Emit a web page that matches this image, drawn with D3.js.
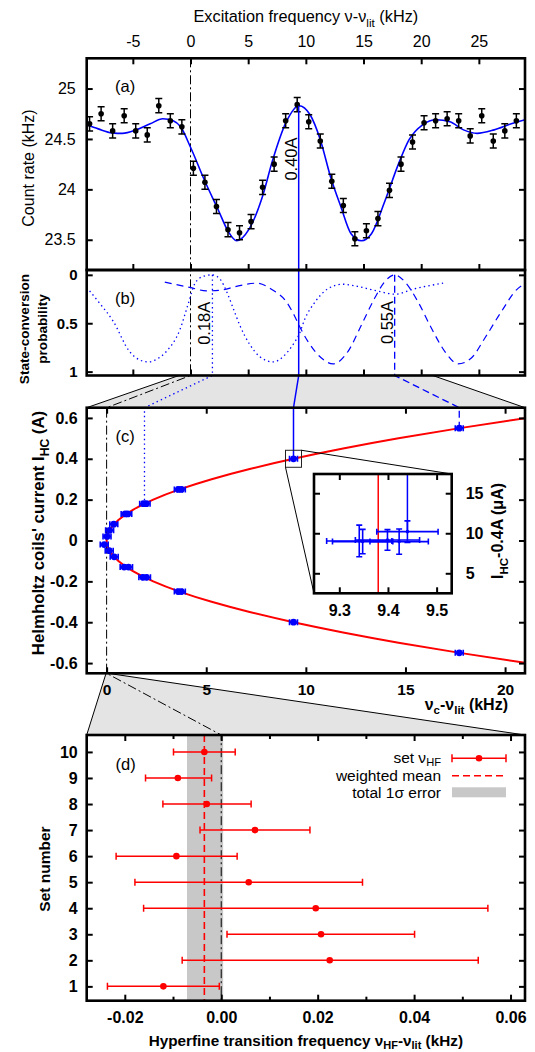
<!DOCTYPE html>
<html><head><meta charset="utf-8">
<script src="https://cdn.jsdelivr.net/npm/d3@7/dist/d3.min.js"></script>
<style>html,body{margin:0;padding:0;background:#fff;} svg{display:block;}</style>
</head><body>
<svg id="chart" width="535" height="1052"></svg>
<script>
// ================= DATA =================
// (a) measured count rate vs excitation frequency (kHz)
const scanFreq = [-8.75,-7.75,-6.75,-5.75,-4.75,-3.75,-2.75,-1.75,-0.75,0.25,1.25,2.25,3.25,4.25,5.25,6.25,7.25,8.25,9.25,10.25,11.25,12.25,13.25,14.25,15.25,16.25,17.25,18.25,19.25,20.25,21.25,22.25,23.25,24.25,25.25,26.25,27.25,28.25];
const scanCount = [24.65,24.75,24.58,24.73,24.58,24.54,24.83,24.68,24.62,24.21,24.07,23.83,23.60,23.57,23.68,24.02,24.25,24.68,24.84,24.67,24.48,24.08,23.84,23.51,23.59,23.71,23.99,24.25,24.47,24.66,24.68,24.70,24.68,24.53,24.73,24.48,24.58,24.68];
const scanErr = [0.07,0.07,0.07,0.07,0.07,0.07,0.07,0.07,0.07,0.07,0.07,0.07,0.07,0.07,0.07,0.07,0.07,0.07,0.07,0.07,0.07,0.07,0.07,0.07,0.07,0.07,0.07,0.07,0.07,0.07,0.07,0.07,0.07,0.07,0.07,0.07,0.07,0.07];
// (a) fit curve
const fitAFreq = [-9.0,-8.0,-6.8,-5.9,-4.7,-3.5,-2.4,-1.5,-0.86,0.03,1.21,2.39,3.28,4.0,5.05,6.24,7.12,8.3,9.4,10.37,11.26,12.15,13.03,13.92,14.81,15.69,16.87,18.06,18.94,20.12,21.31,22.49,23.67,24.85,26.33,27.81,29.0];
const fitACount = [24.64,24.60,24.56,24.555,24.59,24.65,24.70,24.68,24.62,24.41,24.09,23.80,23.58,23.49,23.60,23.93,24.29,24.67,24.83,24.74,24.49,24.12,23.83,23.56,23.49,23.56,23.89,24.26,24.49,24.64,24.69,24.67,24.59,24.555,24.59,24.65,24.69];

// (b) state-conversion probability curves (0.18 A dotted, 0.55 A dashed)
const convDotFreq = [-9.0,-7.9,-6.7,-5.3,-4.4,-3.67,-2.9,-2.08,-0.93,-0.2,0.38,1.1,1.9,2.6,3.12,3.7,4.27,5.14,6.0,7.16,8.32,9.0,9.4,9.9,10.8,11.9,13.2,14.5,16.3,17.7,19.4,21.9];
const convDotProb = [0.13,0.29,0.48,0.79,0.88,0.90,0.87,0.79,0.57,0.30,0.09,0.015,0.0,0.05,0.17,0.345,0.52,0.72,0.845,0.90,0.81,0.70,0.62,0.46,0.28,0.145,0.097,0.12,0.17,0.20,0.145,0.086];
const convDashFreq = [-2.23,-0.06,1.38,2.54,3.98,5.72,7.16,8.32,9.0,9.4,10.19,11.35,12.36,13.66,14.81,15.97,16.84,17.7,18.57,19.73,20.88,22.04,23.19,24.35,25.51,26.95,28.26,29.0];
const convDashProb = [0.076,0.13,0.165,0.16,0.12,0.086,0.16,0.28,0.42,0.52,0.69,0.86,0.92,0.79,0.52,0.24,0.07,0.0,0.07,0.28,0.55,0.79,0.92,0.86,0.655,0.38,0.155,0.09];

// currents whose resonances are connected between the panels
const markerCurrent = [0.18, 0.40, 0.55];
const markerFreq = [1.9, 9.38, 17.7];
const markerLabel = ["0.18A", "0.40A", "0.55A"];

// (c) Helmholtz coil current vs resonance frequency
const coilNu = [0.02,0.15,0.36,0.93,1.06,1.86,1.98,3.6,3.75,9.38,17.7,-0.12,0.13,0.38,0.88,1.1,1.82,2.0,3.6,3.75,9.38,17.7];
const coilI  = [0.02,0.05,0.08,0.13,0.13,0.18,0.18,0.25,0.25,0.40,0.55,-0.02,-0.05,-0.08,-0.13,-0.13,-0.18,-0.18,-0.25,-0.25,-0.40,-0.55];
const coilNuErr = 0.2;
// (c) fitted parabola
const parabolaI  = [-0.6,-0.55,-0.5,-0.45,-0.4,-0.35,-0.3,-0.25,-0.2,-0.15,-0.1,-0.05,-0.025,0,0.025,0.05,0.1,0.15,0.2,0.25,0.3,0.35,0.4,0.45,0.5,0.55,0.6];
const parabolaNu = [21.1,17.73,14.65,11.87,9.38,7.18,5.27,3.66,2.34,1.32,0.59,0.15,0.037,0,0.037,0.15,0.59,1.32,2.34,3.66,5.27,7.18,9.38,11.87,14.65,17.73,21.1];

// (c) inset: measurements at 0.40 A
const insetNu    = [9.341, 9.348, 9.399, 9.423, 9.440];
const insetNuErr = [0.067, 0.062, 0.066, 0.060, 0.063];
const insetI     = [9.04, 8.96, 9.16, 8.96, 10.2];
const insetIErr  = [1.98, 1.52, 1.29, 1.58, 1.35];
const insetFitNu = 9.38;

// (d) hyperfine transition frequency per set
const setNumber = [1,2,3,4,5,6,7,8,9,10];
const setNu   = [-0.0120, 0.0225, 0.0207, 0.0196, 0.0057, -0.0093, 0.0070, -0.0030, -0.0090, -0.0035];
const setLow  = [-0.0236,-0.0081, 0.0012,-0.0161,-0.0179,-0.0218,-0.0044,-0.0121,-0.0157,-0.0099];
const setHigh = [-0.0004, 0.0533, 0.0401, 0.0553, 0.0293, 0.0033, 0.0184, 0.0062,-0.0020, 0.0029];
const meanNu = -0.0035, meanLow = -0.0071, meanHigh = 0.0004;

// tick values
const aTicksX = [-5,0,5,10,15,20,25];
const aTicksY = [23.5,24,24.5,25];
const bTicksY = [0,0.5,1];
const cTicksX = [0,5,10,15,20];
const cTicksY = [-0.6,-0.4,-0.2,0,0.2,0.4,0.6];
const insetTicksX = [9.3,9.4,9.5];
const insetTicksY = [5,10,15];
const dTicksX = [-0.02,0.00,0.02,0.04,0.06];
const dMinorX = [-0.01,0.01,0.03,0.05];
const dTicksY = [1,2,3,4,5,6,7,8,9,10];

// ================= LAYOUT =================
const FONT = '"Liberation Sans", Arial, Helvetica, sans-serif';
const svg = d3.select("#chart").attr("font-family", FONT);
const L = 86.7, R = 525;
const PA = {t: 58.3, b: 270}, PB = {t: 270, b: 375.5}, PC = {t: 407.7, b: 673.3}, PD = {t: 735, b: 1000.7};
const IN = {l: 314, r: 451.7, t: 474, b: 593.3};
const BLUE = "#0000ff", RED = "#ff0000";
const DASHDOT = "9,3,2,3";

const xA = d3.scaleLinear().domain([-9, 29]).range([L, R]);
const yA = d3.scaleLinear().domain([23.2, 25.3]).range([PA.b, PA.t]);
const yB = d3.scaleLinear().domain([-0.05, 1.04]).range([PB.t, PB.b]);
const xC = d3.scaleLinear().domain([-1, 21]).range([L, R]);
const yC = d3.scaleLinear().domain([-0.65, 0.65]).range([PC.b, PC.t]);
const xD = d3.scaleLinear().domain([-0.0279, 0.063]).range([L, R]);
const yD = d3.scaleLinear().domain([0.45, 10.65]).range([PD.b, PD.t]);
const xI = d3.scaleLinear().domain([9.248, 9.531]).range([IN.l, IN.r]);
const yI = d3.scaleLinear().domain([2.5, 17.4]).range([IN.b, IN.t]);

const defs = svg.append("defs");
function clip(id, x0, y0, x1, y1) {
  defs.append("clipPath").attr("id", id).append("rect")
    .attr("x", x0).attr("y", y0).attr("width", x1 - x0).attr("height", y1 - y0);
  return `url(#${id})`;
}
const clipA = clip("ca", L, PA.t, R, PA.b);
const clipB = clip("cb", L, PB.t, R, PB.b);
const clipC = clip("cc", L, PC.t, R, PC.b);
const clipD = clip("cd", L, PD.t, R, PD.b);
const clipI = clip("ci", IN.l, IN.t, IN.r, IN.b);

function rich(sel, parts, fs, subShift) {
  let shift = 0;
  const s = subShift == null ? 0.3 : subShift;
  parts.forEach(p => {
    const ts = sel.append("tspan").text(p.t);
    if (p.sub) {
      ts.attr("font-size", fs * 0.72).attr("dy", fs * s - shift);
      shift = fs * s;
    } else if (shift) {
      ts.attr("dy", -shift); shift = 0;
    }
  });
  return sel;
}
function label(x, y, parts, opt) {
  const fs = opt.fs || 16;
  const t = svg.append("text").attr("font-size", fs).attr("fill", "#000")
    .attr("font-weight", opt.fw || "normal")
    .attr("text-anchor", opt.anchor || "middle");
  if (opt.rot) t.attr("transform", `translate(${x},${y}) rotate(-90)`);
  else t.attr("x", x).attr("y", y);
  if (typeof parts === "string") t.text(parts); else rich(t, parts, fs, opt.sub);
  return t;
}
function axis(gen, tx, ty, fs, fw) {
  const g = svg.append("g").attr("transform", `translate(${tx},${ty})`).call(gen);
  g.attr("font-family", FONT).attr("font-size", fs).attr("font-weight", fw);
  g.select(".domain").remove();
  g.selectAll(".tick line").attr("stroke", "#000").attr("stroke-width", 2);
  g.selectAll(".tick text").attr("fill", "#000");
  return g;
}
const fmt = d => String(d);

// ================= GRAY CONNECTORS =================
const trap1 = [[xA(xC.domain()[0]), PB.b], [xA(xC.domain()[1]), PB.b], [R, PC.t], [L, PC.t]];
const trap2 = [[xC(xD.domain()[0]), PC.b], [xC(xD.domain()[1]), PC.b], [R, PD.t], [L, PD.t]];
[trap1, trap2].forEach(tp => {
  svg.append("path").attr("d", d3.line()(tp) + "Z").attr("fill", "#e4e4e4");
  svg.append("path").attr("d", d3.line()([tp[0], tp[3]])).attr("stroke", "#000").attr("stroke-width", 1).attr("fill", "none");
  svg.append("path").attr("d", d3.line()([tp[1], tp[2]])).attr("stroke", "#000").attr("stroke-width", 1).attr("fill", "none");
});

// (d) total error band
svg.append("rect").attr("x", xD(meanLow)).attr("y", PD.t).attr("width", xD(meanHigh) - xD(meanLow))
  .attr("height", PD.b - PD.t).attr("fill", "#c8c8c8");

// ================= DASH-DOT ZERO LINE =================
svg.append("path").attr("d", d3.line()([[xA(0), PA.t], [xA(0), PB.b], [xC(0), PC.t], [xC(0), PC.b], [xD(0), PD.t], [xD(0), PD.b]]))
  .attr("fill", "none").attr("stroke", "#000").attr("stroke-width", 1).attr("stroke-dasharray", DASHDOT);

// ================= PANEL (a) =================
const gA = svg.append("g").attr("clip-path", clipA);
gA.append("path").datum(fitAFreq)
  .attr("d", d3.line().x((d) => xA(d)).y((d, i) => yA(fitACount[i])).curve(d3.curveMonotoneX))
  .attr("fill", "none").attr("stroke", BLUE).attr("stroke-width", 1.6);
scanFreq.forEach((f, i) => {
  const x = xA(f), y0 = yA(scanCount[i] - scanErr[i]), y1 = yA(scanCount[i] + scanErr[i]);
  gA.append("path").attr("d", `M${x},${y0}V${y1}M${x - 3.5},${y0}H${x + 3.5}M${x - 3.5},${y1}H${x + 3.5}`)
    .attr("stroke", "#000").attr("stroke-width", 1.5).attr("fill", "none");
  gA.append("circle").attr("cx", x).attr("cy", yA(scanCount[i])).attr("r", 2.8).attr("fill", "#000");
});

// ================= PANEL (b) =================
const gB = svg.append("g").attr("clip-path", clipB);
gB.append("path").datum(convDotFreq)
  .attr("d", d3.line().x(d => xA(d)).y((d, i) => yB(convDotProb[i])).curve(d3.curveMonotoneX))
  .attr("fill", "none").attr("stroke", BLUE).attr("stroke-width", 1.3).attr("stroke-dasharray", "1.4,3.2");
gB.append("path").datum(convDashFreq)
  .attr("d", d3.line().x(d => xA(d)).y((d, i) => yB(convDashProb[i])).curve(d3.curveMonotoneX))
  .attr("fill", "none").attr("stroke", BLUE).attr("stroke-width", 1.2).attr("stroke-dasharray", "7,5");

// ================= CONNECTING LINES =================
const markerDash = ["1.4,3.2", null, "7,4"];
const fitPeak = d3.max(fitACount);
markerFreq.forEach((f, i) => {
  const yStart = i === 1 ? yA(fitPeak) : yB(0);
  const pts = [[xA(f), yStart], [xA(f), PB.b], [xC(f), PC.t], [xC(f), yC(markerCurrent[i])]];
  const p = svg.append("path").attr("d", d3.line()(pts)).attr("fill", "none")
    .attr("stroke", BLUE).attr("stroke-width", i === 1 ? 1.5 : 1.3);
  if (markerDash[i]) p.attr("stroke-dasharray", markerDash[i]);
});

// ================= PANEL (c) =================
const gC = svg.append("g").attr("clip-path", clipC);
gC.append("path").datum(parabolaI)
  .attr("d", d3.line().x((d, i) => xC(parabolaNu[i])).y(d => yC(d)).curve(d3.curveMonotoneY))
  .attr("fill", "none").attr("stroke", RED).attr("stroke-width", 2);
coilNu.forEach((nu, i) => {
  const y = yC(coilI[i]), x0 = xC(nu - coilNuErr), x1 = xC(nu + coilNuErr);
  gC.append("path").attr("d", `M${x0},${y}H${x1}M${x0},${y - 3}V${y + 3}M${x1},${y - 3}V${y + 3}`)
    .attr("stroke", BLUE).attr("stroke-width", 1.6).attr("fill", "none");
  gC.append("circle").attr("cx", xC(nu)).attr("cy", y).attr("r", 3.4).attr("fill", BLUE);
});
// zoom box
const bx = xC(markerFreq[1]), by = yC(markerCurrent[1]);
svg.append("rect").attr("x", bx - 8).attr("y", by - 8.5).attr("width", 16).attr("height", 17)
  .attr("fill", "none").attr("stroke", "#222").attr("stroke-width", 1);
svg.append("path").attr("d", `M${bx + 8},${by - 8.5}L${IN.r},${IN.t}M${bx - 8},${by + 8.5}L${IN.l},${IN.b}`)
  .attr("stroke", "#000").attr("stroke-width", 1).attr("fill", "none");

// ================= PANEL (d) =================
const gD = svg.append("g").attr("clip-path", clipD);
gD.append("line").attr("x1", xD(meanNu)).attr("x2", xD(meanNu)).attr("y1", PD.t).attr("y2", PD.b)
  .attr("stroke", RED).attr("stroke-width", 1.6).attr("stroke-dasharray", "7,4");
setNumber.forEach((n, i) => {
  const y = yD(n), x0 = xD(setLow[i]), x1 = xD(setHigh[i]);
  gD.append("path").attr("d", `M${x0},${y}H${x1}M${x0},${y - 3.5}V${y + 3.5}M${x1},${y - 3.5}V${y + 3.5}`)
    .attr("stroke", RED).attr("stroke-width", 1.5).attr("fill", "none");
  gD.append("circle").attr("cx", xD(setNu[i])).attr("cy", y).attr("r", 3.3).attr("fill", RED);
});

// legend (d)
const lgX0 = 452, lgX1 = 506, lgTx = 441;
const lgY = [758.3, 775.7, 792.3];
svg.append("path").attr("d", `M${lgX0},${lgY[0]}H${lgX1}M${lgX0},${lgY[0] - 4}V${lgY[0] + 4}M${lgX1},${lgY[0] - 4}V${lgY[0] + 4}`)
  .attr("stroke", RED).attr("stroke-width", 1.5).attr("fill", "none");
svg.append("circle").attr("cx", (lgX0 + lgX1) / 2).attr("cy", lgY[0]).attr("r", 3.3).attr("fill", RED);
svg.append("line").attr("x1", lgX0).attr("x2", lgX1).attr("y1", lgY[1]).attr("y2", lgY[1])
  .attr("stroke", RED).attr("stroke-width", 1.6).attr("stroke-dasharray", "7,4");
svg.append("rect").attr("x", lgX0).attr("y", lgY[2] - 5).attr("width", lgX1 - lgX0).attr("height", 10).attr("fill", "#c8c8c8");
label(lgTx, lgY[0] + 5, [{t: "set ν"}, {t: "HF", sub: true}], {fs: 15.5, anchor: "end", sub: 0.2});
label(lgTx, lgY[1] + 5.5, "weighted mean", {fs: 15.5, anchor: "end"});
label(lgTx, lgY[2] + 5.5, "total 1σ error", {fs: 15.5, anchor: "end"});

// ================= FRAMES & AXES =================
function frame(x0, y0, x1, y1) {
  svg.append("rect").attr("x", x0).attr("y", y0).attr("width", x1 - x0).attr("height", y1 - y0)
    .attr("fill", "none").attr("stroke", "#000").attr("stroke-width", 2.6);
}
// (a)
axis(d3.axisTop(xA).tickValues(aTicksX).tickSize(-6).tickPadding(11.8).tickFormat(fmt), 0, PA.t, 16, "normal");
axis(d3.axisBottom(xA).tickValues(aTicksX).tickSize(-6).tickFormat(""), 0, PA.b, 16, "normal");
axis(d3.axisLeft(yA).tickValues(aTicksY).tickSize(-6).tickPadding(11).tickFormat(fmt), L, 0, 16, "normal");
axis(d3.axisRight(yA).tickValues(aTicksY).tickSize(-6).tickFormat(""), R, 0, 16, "normal");
frame(L, PA.t, R, PA.b);
// (b)
axis(d3.axisBottom(xA).tickValues(aTicksX).tickSize(-6).tickFormat(""), 0, PB.b, 15, "bold");
axis(d3.axisLeft(yB).tickValues(bTicksY).tickSize(-6).tickPadding(9).tickFormat(fmt), L, 0, 15, "bold");
axis(d3.axisRight(yB).tickValues(bTicksY).tickSize(-6).tickFormat(""), R, 0, 15, "bold");
frame(L, PB.t, R, PB.b);
// (c)
const fmtC = d => d === 0 ? "0" : d.toFixed(1);
axis(d3.axisBottom(xC).tickValues(cTicksX).tickSize(-6).tickPadding(11).tickFormat(fmt), 0, PC.b, 15.5, "bold");
axis(d3.axisTop(xC).tickValues(cTicksX).tickSize(-6).tickFormat(""), 0, PC.t, 15.5, "bold");
axis(d3.axisLeft(yC).tickValues(cTicksY).tickSize(-6).tickPadding(9).tickFormat(fmtC), L, 0, 16, "bold");
axis(d3.axisRight(yC).tickValues(cTicksY).tickSize(-6).tickFormat(""), R, 0, 16, "bold");
frame(L, PC.t, R, PC.b);
// (d)
const fmtD = d => d.toFixed(2);
axis(d3.axisBottom(xD).tickValues(dTicksX).tickSize(-6).tickPadding(11).tickFormat(fmtD), 0, PD.b, 16, "bold");
axis(d3.axisBottom(xD).tickValues(dMinorX).tickSize(-4).tickFormat(""), 0, PD.b, 16, "bold");
axis(d3.axisTop(xD).tickValues(dTicksX).tickSize(-6).tickFormat(""), 0, PD.t, 16, "bold");
axis(d3.axisTop(xD).tickValues(dMinorX).tickSize(-4).tickFormat(""), 0, PD.t, 16, "bold");
axis(d3.axisLeft(yD).tickValues(dTicksY).tickSize(-6).tickPadding(9).tickFormat(fmt), L, 0, 16, "bold");
axis(d3.axisRight(yD).tickValues(dTicksY).tickSize(-6).tickFormat(""), R, 0, 16, "bold");
frame(L, PD.t, R, PD.b);

// ================= INSET =================
svg.append("rect").attr("x", IN.l).attr("y", IN.t).attr("width", IN.r - IN.l).attr("height", IN.b - IN.t).attr("fill", "#fff");
const gI = svg.append("g").attr("clip-path", clipI);
gI.append("line").attr("x1", xI(insetFitNu)).attr("x2", xI(insetFitNu)).attr("y1", IN.t).attr("y2", IN.b)
  .attr("stroke", RED).attr("stroke-width", 1.5);
gI.append("line").attr("x1", xI(insetNu[4])).attr("x2", xI(insetNu[4])).attr("y1", IN.t).attr("y2", yI(insetI[4]))
  .attr("stroke", BLUE).attr("stroke-width", 1.5);
insetNu.forEach((nu, i) => {
  const x = xI(nu), y = yI(insetI[i]);
  const x0 = xI(nu - insetNuErr[i]), x1 = xI(nu + insetNuErr[i]);
  const y0 = yI(insetI[i] - insetIErr[i]), y1 = yI(insetI[i] + insetIErr[i]);
  gI.append("path").attr("d", `M${x0},${y}H${x1}M${x0},${y - 3}V${y + 3}M${x1},${y - 3}V${y + 3}M${x},${y0}V${y1}M${x - 3},${y0}H${x + 3}M${x - 3},${y1}H${x + 3}`)
    .attr("stroke", BLUE).attr("stroke-width", 1.6).attr("fill", "none");
  gI.append("circle").attr("cx", x).attr("cy", y).attr("r", 1.8).attr("fill", BLUE);
});
axis(d3.axisBottom(xI).tickValues(insetTicksX).tickSize(-6).tickPadding(11).tickFormat(fmt), 0, IN.b, 16, "bold");
axis(d3.axisTop(xI).tickValues(insetTicksX).tickSize(-6).tickFormat(""), 0, IN.t, 16, "bold");
axis(d3.axisLeft(yI).tickValues(insetTicksY).tickSize(-6).tickFormat(""), IN.l, 0, 16, "bold");
axis(d3.axisRight(yI).tickValues(insetTicksY).tickSize(-6).tickPadding(14).tickFormat(fmt), IN.r, 0, 16, "bold");
frame(IN.l, IN.t, IN.r, IN.b);

// ================= TEXTS =================
label((L + R) / 2, 22, [{t: "Excitation frequency ν-ν"}, {t: "lit", sub: true}, {t: " (kHz)"}], {fs: 16.3});
label(34, 168, "Count rate (kHz)", {fs: 16, rot: true});
label(115, 92, "(a)", {fs: 16.5, anchor: "start"});
label(29, 329, "State-conversion", {fs: 13.6, fw: "bold", rot: true});
label(47, 329, "probability", {fs: 13.6, fw: "bold", rot: true});
label(115, 304, "(b)", {fs: 16.5, anchor: "start"});
label(44, 533, [{t: "Helmholtz coils' current I"}, {t: "HC", sub: true}, {t: " (A)"}], {fs: 16.8, fw: "bold", rot: true});
label(115.5, 442, "(c)", {fs: 16.5, anchor: "start"});
label(508, 710, [{t: "ν"}, {t: "c", sub: true}, {t: "-ν"}, {t: "lit", sub: true}, {t: " (kHz)"}], {fs: 16, fw: "bold", anchor: "end", sub: 0.22});
label(503, 531, [{t: "I"}, {t: "HC", sub: true}, {t: "-0.4A (μA)"}], {fs: 16, fw: "bold", rot: true});
label(50, 869, "Set number", {fs: 15.5, fw: "bold", rot: true});
label((L + R) / 2, 1046, [{t: "Hyperfine transition frequency ν"}, {t: "HF", sub: true}, {t: "-ν"}, {t: "lit", sub: true}, {t: " (kHz)"}], {fs: 15.3, fw: "bold", sub: 0.22});
label(115.5, 770, "(d)", {fs: 16.5, anchor: "start"});
// current labels
const markerLabelY = [323.3, 159, 322.5];
markerFreq.forEach((f, i) => {
  label(xA(f) - 2, markerLabelY[i], markerLabel[i], {fs: 16.5, rot: true});
});
</script>
</body></html>
